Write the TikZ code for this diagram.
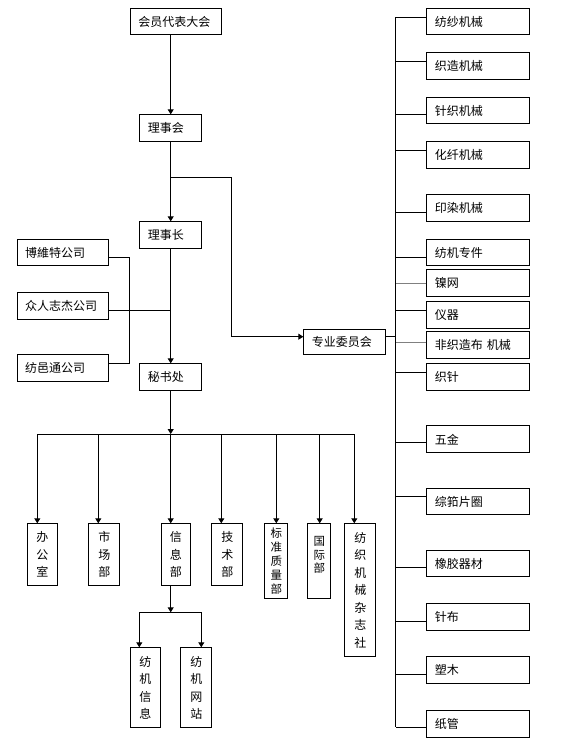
\documentclass[tikz,border=0pt]{standalone}
\usepackage{fontspec}
\setmainfont{Noto Sans CJK SC}
\usetikzlibrary{arrows.meta}
\begin{document}
\begin{tikzpicture}[x=1pt,y=-1pt,
  every node/.style={font=\fontsize{12}{14}\selectfont},
  hb/.style={draw, line width=0.9pt, anchor=north west, inner xsep=8pt, inner ysep=0pt, align=left},
  vb/.style={draw, line width=0.9pt, anchor=north west, inner sep=0pt, align=center, font=\fontsize{12}{17.5}\selectfont},
  ln/.style={line width=0.9pt},
  arr/.style={ln, -{Triangle[length=5pt,width=6pt]}},
]
\useasboundingbox (0,0) rectangle (561,744);
% main column
\node[hb, text width=75.3pt, minimum height=26pt] (top) at (130,8.3) {会员代表大会};
\node[hb, text width=46pt, minimum height=27pt] (lsh) at (139.3,114.3) {理事会};
\node[hb, text width=46pt, minimum height=27pt] (lsz) at (139.3,221.3) {理事长};
\node[hb, text width=46pt, minimum height=27pt] (msc) at (139.3,363.3) {秘书处};
\node[hb, text width=75.6pt, minimum height=25.7pt] (c1) at (16.7,239.3) {博維特公司};
\node[hb, text width=75.6pt, minimum height=27pt] (c2) at (16.7,292.3) {众人志杰公司};
\node[hb, text width=75.6pt, minimum height=26.7pt] (c3) at (16.7,354.3) {纺邑通公司};
\node[hb, text width=66pt, minimum height=25.6pt] (zy) at (303.3,328.7) {专业委员会};

\coordinate (mx) at (170.7,0);
\coordinate (b1) at (170.7,177.3);
\coordinate (b2) at (231.3,336.7);
\coordinate (bar) at (170.7,434);
\coordinate (sub) at (170.7,612.3);

\draw[arr] (top.south -| mx) -- (lsh.north -| mx);
\draw[arr] (lsh.south -| mx) -- (lsz.north -| mx);
\draw[arr] (b1) -| (b2) -- (zy.west |- b2);
\draw[arr] (lsz.south -| mx) -- (msc.north -| mx);
\draw[ln] (c2.east |- 0,310.3) -- (mx |- 0,310.3);
\draw[ln] (c1.east |- 0,257.3) -- (129.3,257.3) -- (129.3,363.3) -- (c3.east |- 0,363.3);
\draw[arr] (msc.south -| mx) -- (bar);
\draw[ln] (37.3,434) -- (354.3,434);

% departments
\node[vb, minimum width=30.6pt, minimum height=61.7pt] (bgs) at (26.7,523.3) {办\\公\\室};
\node[vb, minimum width=31pt, minimum height=61.7pt] (scb) at (88.3,523.3) {市\\场\\部};
\node[vb, minimum width=29.6pt, minimum height=61.7pt] (xxb) at (160.7,523.3) {信\\息\\部};
\node[vb, minimum width=31pt, minimum height=61.7pt] (jsb) at (211.3,523.3) {技\\术\\部};
\node[vb, minimum width=23pt, minimum height=75pt, font=\fontsize{11.5}{14}\selectfont] (bzb) at (264.3,523.3) {标\\准\\质\\量\\部};
\node[vb, minimum width=23pt, minimum height=75pt,
  label={[name=gjt, font=\fontsize{11.5}{13.5}\selectfont, align=center, anchor=north, yshift=-10pt]north:{国\\际\\部}}] (gjb) at (307.3,523.3) {};
\node[vb, minimum width=31pt, minimum height=133pt] (zzs) at (344.3,523.3) {纺\\织\\机\\械\\杂\\志\\社};

\foreach \x/\n in {37.3/bgs, 98.3/scb, 170.7/xxb, 221.3/jsb, 276.3/bzb, 319.7/gjb, 354.3/zzs}{
  \coordinate (d-\n) at (\x,434);
  \draw[arr] (d-\n) -- (d-\n |- \n.north);
}

\node[vb, minimum width=30.6pt, minimum height=80pt] (fjxx) at (129.7,647.3) {纺\\机\\信\\息};
\node[vb, minimum width=31pt, minimum height=80pt] (fjwz) at (180.3,647.3) {纺\\机\\网\\站};
\draw[arr] (xxb.south -| mx) -- (sub);
\coordinate (s1) at (139.3,612.3);
\coordinate (s2) at (201.3,612.3);
\draw[ln] (s1) -- (s2);
\draw[arr] (s1) -- (s1 |- fjxx.north);
\draw[arr] (s2) -- (s2 |- fjwz.north);

% specialised committees
\coordinate (rt) at (395.7,17.3);
\coordinate (rb) at (395.7,727);
\draw[ln] (rt) -- (rb);
\draw[ln] (zy.east |- b2) -- (rt |- b2);
\foreach \n/\a/\b/\c/\t/\col in {
  r1/8.3/34.3/17.3/纺纱机械/black,
  r2/52.3/79.3/61.3/织造机械/black,
  r3/97.3/123.3/114.3/针织机械/black,
  r4/141.3/168.3/150.3/化纤机械/black,
  r5/194.3/221.3/212/印染机械/black,
  r6/239.3/265/257.3/纺机专件/black,
  r7/269.3/296/283.3/镍网/gray,
  r8/301.3/328.3/310/仪器/black,
  r9/331.3/358/342.7/非织造布 机械/gray,
  r10/363.3/390.3/372.3/织针/black,
  r11/425.3/452.3/442.7/五金/black,
  r12/488.3/514.3/496/综筘片圈/black,
  r13/550.3/576.3/567.3/橡胶器材/black,
  r14/603.3/630.3/621/针布/black,
  r15/656.3/683.3/674/塑木/black,
  r16/710/736.7/727/纸管/black}{
  \node[hb, text width=87pt, minimum height={\b-\a}] (\n) at (426.3,\a) {\t};
  \draw[ln, draw=\col] (\n.west |- 0,\c) -- (rt |- 0,\c);
}
\end{tikzpicture}
\end{document}
